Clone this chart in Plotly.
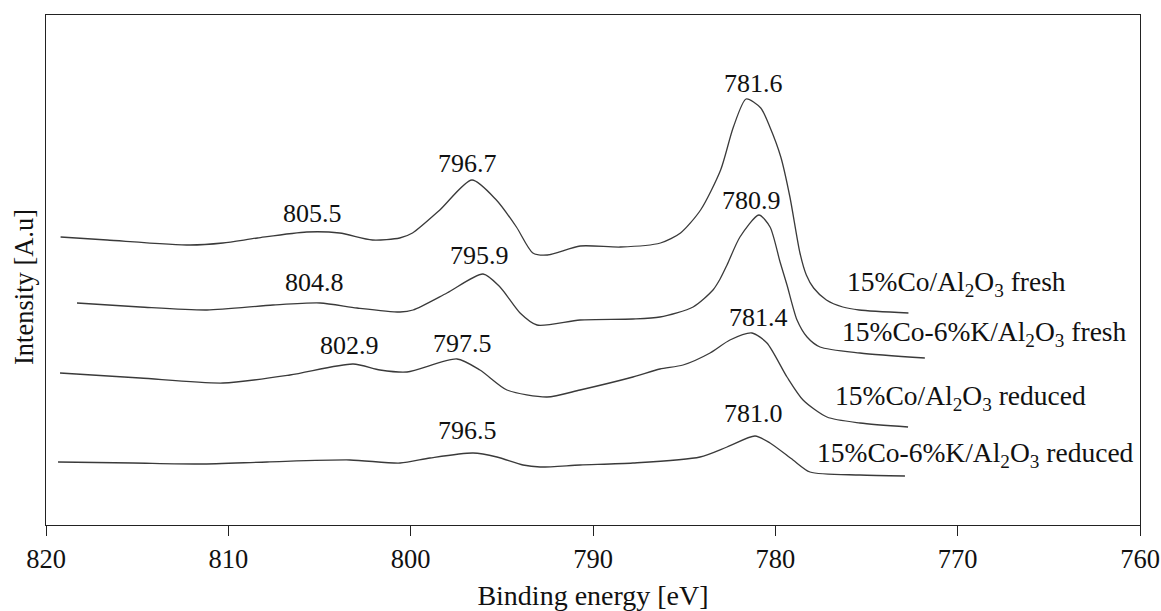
import plotly.graph_objects as go

# ---- data (binding energy in eV, intensity in arbitrary units) ----
be_co_fresh = [819.2, 816.65, 812.1, 810.3, 808.4, 805.7, 803.9, 802.1, 800.6, 799.9, 798.4,
               796.64, 795.3, 794.2, 793.3, 792.5, 790.7, 788.5, 786.3, 785.2, 784.1, 783.0,
               782.3, 781.6, 780.8, 780.3, 779.7, 779.2, 778.65, 778.3, 777.9, 777.2, 776.3,
               775.4, 772.7]
int_co_fresh = [288, 285, 280, 282, 287, 293, 292, 285, 287, 292, 315,
                345, 325, 298, 272, 270, 279, 278, 282, 292, 315, 355,
                398, 426, 417, 398, 368, 328, 272, 250, 237, 225, 218,
                215, 212]

be_cok_fresh = [818.3, 814.84, 811.17, 807.55, 804.97, 802.94, 800.58, 799.87, 798.01, 796.03,
                795.1, 794.0, 793.07, 790.71, 787.81, 786.33, 784.51, 783.42, 783.03, 782.65,
                781.94, 780.9, 780.29, 779.74, 779.36, 778.81, 778.26, 777.55, 775.36, 771.8]
int_cok_fresh = [222, 218, 215, 220, 222, 217, 213, 215, 232, 251,
                 238, 212, 200, 205, 206, 208, 218, 235, 246, 260,
                 288, 310, 298, 263, 240, 205, 188, 178, 172, 167]

be_co_red = [819.23, 814.84, 810.29, 806.62, 803.16, 801.68, 800.2, 797.46, 796.2, 794.72,
             792.52, 790.71, 787.81, 786.33, 785.06, 783.58, 782.49, 781.28, 780.46, 779.36,
             778.48, 777.17, 775.36, 772.72]
int_co_red = [152, 147, 142, 150, 161, 155, 153, 166, 155, 135,
              128, 135, 148, 156, 160, 172, 185, 192, 182, 148,
              125, 108, 102, 98]

be_cok_red = [819.34, 815.23, 811.55, 807.88, 803.33, 800.58, 798.94, 796.58, 795.27, 793.84,
              792.9, 790.71, 787.81, 784.13, 782.65, 781.11, 780.29, 779.03, 778.1, 775.36,
              772.89]
int_cok_red = [63, 62, 61, 63, 65, 62, 67, 72, 68, 60,
               58, 60, 62, 68, 78, 89, 82, 65, 53, 50,
               49]

series_names = ["15%Co/Al<sub>2</sub>O<sub>3</sub> fresh",
                "15%Co-6%K/Al<sub>2</sub>O<sub>3</sub> fresh",
                "15%Co/Al<sub>2</sub>O<sub>3</sub> reduced",
                "15%Co-6%K/Al<sub>2</sub>O<sub>3</sub> reduced"]
series_label_x = [776.18, 776.45, 776.84, 777.82]
series_label_y = [242, 192, 128, 71]

peak_labels = ["781.6", "796.7", "805.5", "780.9", "795.9", "804.8",
               "802.9", "797.5", "781.4", "796.5", "781.0"]
peak_label_x = [781.22, 796.86, 805.41, 781.28, 796.20, 805.25,
                803.33, 797.18, 780.95, 796.91, 781.22]
peak_label_y = [442, 362, 312, 325, 270, 243, 180, 182, 208, 95, 112]

x_ticks = [820, 810, 800, 790, 780, 770, 760]

FONT = "Liberation Serif"
LINE_COLOR = "#3a3a3a"
TEXT_COLOR = "#111111"

fig = go.Figure()
for bx, iy, nm in [(be_co_fresh, int_co_fresh, series_names[0]),
                   (be_cok_fresh, int_cok_fresh, series_names[1]),
                   (be_co_red, int_co_red, series_names[2]),
                   (be_cok_red, int_cok_red, series_names[3])]:
    fig.add_trace(go.Scatter(x=bx, y=iy, mode="lines", name=nm,
                             line=dict(color=LINE_COLOR, width=1.3, shape="spline", smoothing=0.7),
                             showlegend=False))

annotations = []
for t, x, y in zip(peak_labels, peak_label_x, peak_label_y):
    annotations.append(dict(x=x, y=y, xref="x", yref="y", text=t, showarrow=False,
                            xanchor="center", yanchor="middle",
                            font=dict(family=FONT, size=26, color=TEXT_COLOR)))
for t, x, y in zip(series_names, series_label_x, series_label_y):
    annotations.append(dict(x=x, y=y, xref="x", yref="y", text=t, showarrow=False,
                            xanchor="left", yanchor="middle",
                            font=dict(family=FONT, size=27.5, color=TEXT_COLOR)))
annotations.append(dict(x=-0.02, y=0.467, xref="paper", yref="paper", text="Intensity [A.u]",
                        showarrow=False, textangle=-90, xanchor="center", yanchor="middle",
                        font=dict(family=FONT, size=26.5, color=TEXT_COLOR)))

fig.update_layout(
    width=1161, height=611,
    margin=dict(l=46, r=21, t=15, b=86),
    paper_bgcolor="white", plot_bgcolor="white",
    font=dict(family=FONT, size=26, color=TEXT_COLOR),
    annotations=annotations,
    xaxis=dict(range=[820, 760], tickvals=x_ticks, ticks="outside", ticklen=10, tickwidth=1.2,
               tickcolor="#222", showline=True, linecolor="#222", linewidth=1.2, mirror=True,
               showgrid=False, zeroline=False, automargin=False,
               title=dict(text="Binding energy [eV]", font=dict(family=FONT, size=28, color=TEXT_COLOR),
                          standoff=20),
               tickfont=dict(family=FONT, size=26.5, color=TEXT_COLOR)),
    yaxis=dict(range=[0, 510], showticklabels=False, ticks="", showline=True, linecolor="#222",
               linewidth=1.2, mirror=True, showgrid=False, zeroline=False, automargin=False),
)

fig.write_html("out.html")
